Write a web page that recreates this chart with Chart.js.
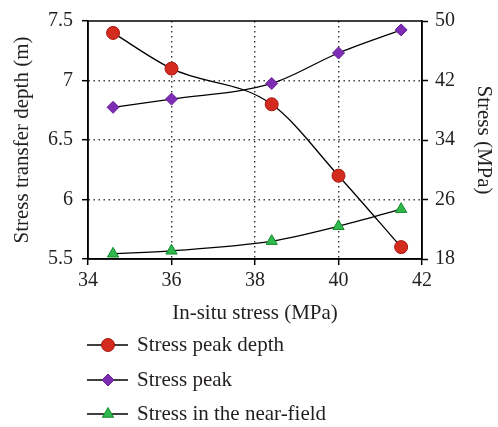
<!DOCTYPE html>
<html>
<head>
<meta charset="utf-8">
<script src="https://cdn.jsdelivr.net/npm/chart.js@4"></script>
<style>
  html, body { margin: 0; padding: 0; background: #fff; }
  #wrap { width: 498px; height: 427px; }
</style>
</head>
<body>
<div id="wrap"><canvas id="c" width="498" height="427"></canvas></div>
<script>
// In-situ stress (MPa) on the x axis
const insituStress = [34.6, 36.0, 38.4, 40.0, 41.5];
// Stress transfer depth (m), left axis
const peakDepth = [7.4, 7.1, 6.8, 6.2, 5.6];
// Stress (MPa), right axis
const stressPeak = [38.4, 39.5, 41.6, 45.7, 48.8];
const nearFieldStress = [18.7, 19.1, 20.4, 22.4, 24.7];

const xTicks = [34, 36, 38, 40, 42];
const leftTicks = ['5.5', '6', '6.5', '7', '7.5'];
const rightTicks = ['18', '26', '34', '42', '50'];

const seriesNames = ['Stress peak depth', 'Stress peak', 'Stress in the near-field'];

const SERIF = '"Liberation Serif", "Times New Roman", serif';

function pairs(xs, ys) {
  return xs.map((x, i) => ({ x: x, y: ys[i] }));
}

function drawMarker(ctx, style, x, y, r, fill, stroke) {
  ctx.save();
  ctx.fillStyle = fill;
  ctx.strokeStyle = stroke;
  ctx.lineWidth = 1;
  ctx.beginPath();
  if (style === 'circle') {
    ctx.arc(x, y, r, 0, Math.PI * 2);
  } else if (style === 'rectRot') {
    ctx.moveTo(x - r, y);
    ctx.lineTo(x, y - r);
    ctx.lineTo(x + r, y);
    ctx.lineTo(x, y + r);
    ctx.closePath();
  } else if (style === 'triangle') {
    const h = r * 1.5;
    const w = r * Math.sqrt(3) / 2;
    ctx.moveTo(x, y - r);
    ctx.lineTo(x + w, y + h - r);
    ctx.lineTo(x - w, y + h - r);
    ctx.closePath();
  }
  ctx.fill();
  ctx.stroke();
  ctx.restore();
}

// Frame around the plotting area
const framePlugin = {
  id: 'frame',
  afterDatasetsDraw(chart) {
    const { ctx, chartArea: a } = chart;
    ctx.save();
    ctx.strokeStyle = '#000';
    ctx.lineWidth = 1.5;
    ctx.strokeRect(a.left, a.top, a.right - a.left, a.bottom - a.top);
    ctx.restore();
  }
};

// Stacked legend below the x-axis title
const stackedLegend = {
  id: 'stackedLegend',
  afterDraw(chart) {
    const { ctx } = chart;
    const rows = [345, 380, 414];
    const lineX0 = 87, lineX1 = 128, markX = 108, textX = 137;
    chart.data.datasets.forEach((ds, i) => {
      const y = rows[i];
      ctx.save();
      ctx.strokeStyle = '#000';
      ctx.lineWidth = 1.3;
      ctx.beginPath();
      ctx.moveTo(lineX0, y);
      ctx.lineTo(lineX1, y);
      ctx.stroke();
      ctx.restore();
      drawMarker(ctx, ds.pointStyle, markX, y, ds.pointRadius, ds.pointBackgroundColor, ds.pointBorderColor);
      ctx.save();
      ctx.fillStyle = '#231f20';
      ctx.font = '21px ' + SERIF;
      ctx.textBaseline = 'middle';
      ctx.textAlign = 'left';
      ctx.fillText(ds.label, textX, y);
      ctx.restore();
    });
  }
};

function edgeHidden(edges) {
  return (c) => (c.tick && edges.includes(c.tick.value)) ? 'rgba(0,0,0,0)' : '#333';
}

const tickFont = { family: SERIF, size: 20 };
const titleFont = { family: SERIF, size: 21 };

new Chart(document.getElementById('c'), {
  type: 'line',
  data: {
    datasets: [
      {
        label: seriesNames[0],
        data: pairs(insituStress, peakDepth),
        yAxisID: 'yLeft',
        borderColor: '#000',
        borderWidth: 1.3,
        pointStyle: 'circle',
        pointRadius: 6.5,
        pointBackgroundColor: '#d42b1f',
        pointBorderColor: '#a8170f',
        pointBorderWidth: 1,
        cubicInterpolationMode: 'monotone',
        fill: false
      },
      {
        label: seriesNames[1],
        data: pairs(insituStress, stressPeak),
        yAxisID: 'yRight',
        borderColor: '#000',
        borderWidth: 1.3,
        pointStyle: 'rectRot',
        pointRadius: 6,
        pointBackgroundColor: '#7d2db3',
        pointBorderColor: '#66209a',
        pointBorderWidth: 1,
        cubicInterpolationMode: 'monotone',
        fill: false
      },
      {
        label: seriesNames[2],
        data: pairs(insituStress, nearFieldStress),
        yAxisID: 'yRight',
        borderColor: '#000',
        borderWidth: 1.3,
        pointStyle: 'triangle',
        pointRadius: 6.5,
        pointBackgroundColor: '#2fb84c',
        pointBorderColor: '#168a30',
        pointBorderWidth: 1,
        cubicInterpolationMode: 'monotone',
        fill: false
      }
    ]
  },
  options: {
    responsive: false,
    animation: false,
    devicePixelRatio: 1,
    layout: { padding: { left: 10, right: 2, top: 19, bottom: 101 } },
    plugins: {
      legend: { display: false },
      tooltip: { enabled: false }
    },
    scales: {
      x: {
        type: 'linear',
        position: 'bottom',
        min: xTicks[0],
        max: xTicks[xTicks.length - 1],
        afterBuildTicks: (s) => { s.ticks = xTicks.map(v => ({ value: v })); },
        ticks: {
          font: tickFont, color: '#231f20', padding: 4, maxRotation: 0,
          callback: (v) => String(v)
        },
        grid: {
          color: edgeHidden([xTicks[0], xTicks[xTicks.length - 1]]),
          lineWidth: 1.4,
          tickLength: 6, tickColor: '#000', tickWidth: 1.5, tickBorderDash: []
        },
        border: { display: true, color: '#000', width: 1.5, dash: [1.4, 3.6] },
        title: { display: true, text: 'In-situ stress (MPa)', font: titleFont, color: '#231f20', padding: 0 },
        afterFit: (s) => { s.height = 67; }
      },
      yLeft: {
        type: 'linear',
        position: 'left',
        min: 5.5,
        max: 7.5,
        afterBuildTicks: (s) => { s.ticks = leftTicks.map(t => ({ value: parseFloat(t) })); },
        ticks: {
          font: tickFont, color: '#231f20', padding: 9,
          callback: (v, i) => leftTicks[i]
        },
        grid: {
          color: edgeHidden([5.5, 7.5]),
          lineWidth: 1.4,
          tickLength: 6, tickColor: '#000', tickWidth: 1.5, tickBorderDash: []
        },
        border: { display: true, color: '#000', width: 1.5, dash: [1.4, 3.6] },
        title: { display: true, text: 'Stress transfer depth (m)', font: titleFont, color: '#231f20', padding: 0 },
        afterFit: (s) => { s.width = 78; }
      },
      yRight: {
        type: 'linear',
        position: 'right',
        min: 18,
        max: 50,
        afterBuildTicks: (s) => { s.ticks = rightTicks.map(t => ({ value: parseFloat(t) })); },
        ticks: {
          font: tickFont, color: '#231f20', padding: 7,
          callback: (v, i) => rightTicks[i]
        },
        grid: {
          drawOnChartArea: false,
          tickLength: 6, tickColor: '#000', tickWidth: 1.5, tickBorderDash: []
        },
        border: { display: true, color: '#000', width: 1.5 },
        title: { display: true, text: 'Stress (MPa)', font: titleFont, color: '#231f20', padding: 0 },
        afterFit: (s) => { s.width = 74; }
      }
    }
  },
  plugins: [framePlugin, stackedLegend]
});
</script>
</body>
</html>
